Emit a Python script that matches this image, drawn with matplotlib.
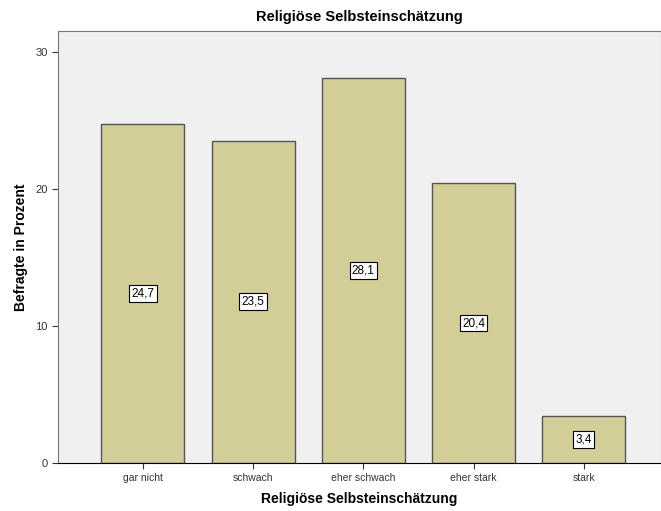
import matplotlib.pyplot as plt

plt.rcParams['font.family'] = ['Liberation Sans', 'DejaVu Sans']

categories = ['gar nicht', 'schwach', 'eher schwach', 'eher stark', 'stark']
values = [24.7, 23.5, 28.1, 20.4, 3.4]
labels = ['24,7', '23,5', '28,1', '20,4', '3,4']

fig = plt.figure(figsize=(6.61, 5.11), dpi=100)
ax = fig.add_axes([58/661, 48/511, 1 - 58/661, (463-31)/511])
ax.set_facecolor('#F0F0F0')

x = range(len(categories))
ax.bar(x, values, width=0.755, color='#D3CE97', edgecolor='#555555', linewidth=1.0, zorder=2)

for xi, v, lab in zip(x, values, labels):
    ax.text(xi, v / 2, lab, ha='center', va='center', fontsize=8.5, zorder=3,
            bbox=dict(boxstyle='square,pad=0.2', fc='white', ec='black', lw=0.8))

ax.set_xlim(-0.77, 4.7)
ax.set_ylim(0, 31.5)
ax.set_yticks([0, 10, 20, 30])
ax.set_xticks(list(x))
ax.set_xticklabels(categories, fontsize=7.5)
ax.tick_params(axis='y', labelsize=8, length=4, color='#333333', labelcolor='#333333')
ax.tick_params(axis='x', length=4, color='#333333', labelcolor='#333333')

for side in ['top', 'left', 'right']:
    ax.spines[side].set_color('#777777')
ax.spines['bottom'].set_color('black')

ax.set_title('Religiöse Selbsteinschätzung', fontsize=10.5, fontweight='bold', pad=7)
ax.set_xlabel('Religiöse Selbsteinschätzung', fontsize=10, fontweight='bold', labelpad=6)
ax.set_ylabel('Befragte in Prozent', fontsize=10, fontweight='bold', labelpad=5)

fig.savefig('out.png', dpi=100)
